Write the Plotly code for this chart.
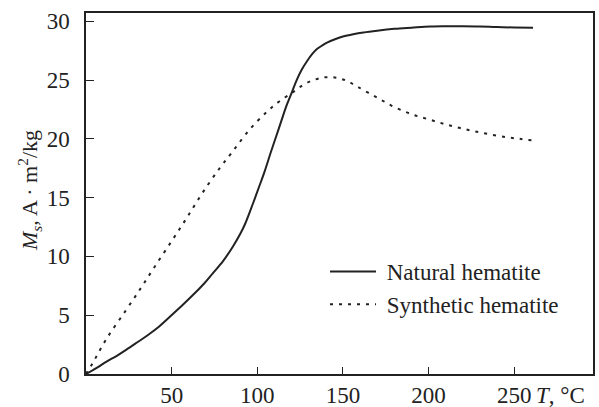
import plotly.graph_objects as go

natural_T = [0, 6, 12, 18, 23.4, 30, 36, 42, 50.7, 57, 63, 69, 74, 80, 85.8, 90, 93, 97.5, 101, 104, 108, 111, 114, 117, 120.3, 123, 126, 129, 132, 135, 138, 141, 145, 150, 156, 162, 170, 180, 190, 201, 210, 220, 230, 240, 250, 261]
natural_Ms = [0, 0.5, 1.05, 1.55, 2.05, 2.7, 3.3, 3.95, 5.1, 5.95, 6.8, 7.7, 8.56, 9.6, 10.85, 11.9, 12.8, 14.5, 15.9, 17.1, 18.9, 20.2, 21.5, 22.8, 24.0, 25.0, 25.9, 26.6, 27.2, 27.65, 27.95, 28.2, 28.45, 28.7, 28.9, 29.05, 29.2, 29.35, 29.45, 29.55, 29.57, 29.57, 29.55, 29.5, 29.47, 29.45]

synthetic_T = [0, 3.9, 12, 23.4, 32, 40, 50, 58.5, 68, 78, 85.5, 95, 105.6, 113, 121.2, 127, 132.9, 138, 142, 146, 150, 154, 158.3, 165, 171.9, 178, 185.5, 192, 199, 206, 212, 219, 226.5, 235, 245, 253, 261.6]
synthetic_Ms = [0, 0.93, 3.0, 5.44, 7.3, 9.1, 11.3, 13.2, 15.4, 17.5, 18.9, 20.7, 22.3, 23.2, 24.0, 24.6, 25.0, 25.2, 25.25, 25.2, 25.05, 24.8, 24.45, 23.9, 23.35, 22.85, 22.35, 22.0, 21.7, 21.4, 21.15, 20.9, 20.65, 20.4, 20.15, 20.0, 19.85]

x_ticks = [50, 100, 150, 200, 250]
y_ticks = [0, 5, 10, 15, 20, 25, 30]

FONT = "Liberation Serif, Times New Roman, serif"
INK = "#222222"

fig = go.Figure()
fig.add_trace(go.Scatter(x=natural_T, y=natural_Ms, mode="lines", name=" Natural hematite",
                         line=dict(color=INK, width=2, shape="spline", smoothing=1.0)))
fig.add_trace(go.Scatter(x=synthetic_T, y=synthetic_Ms, mode="lines", name=" Synthetic hematite",
                         line=dict(color=INK, width=2, dash="3px,6px", shape="spline", smoothing=1.0)))

fig.update_layout(
    width=599, height=407,
    margin=dict(l=86, r=6, t=13, b=33),
    paper_bgcolor="white", plot_bgcolor="white",
    font=dict(family=FONT, size=23, color=INK),
    showlegend=True,
    legend=dict(x=(325 - 86) / 507, y=(374 - 250) / 361, xanchor="left", yanchor="top",
                bgcolor="rgba(0,0,0,0)", font=dict(family=FONT, size=23, color=INK),
                itemwidth=46, tracegroupgap=0),
    xaxis=dict(range=[0, 296], tickvals=x_ticks, ticktext=[str(v) for v in x_ticks],
               ticks="inside", ticklen=7, tickcolor=INK, tickwidth=1,
               showline=True, linecolor=INK, linewidth=1.5, mirror=True,
               showgrid=False, zeroline=False, fixedrange=True, automargin=False,
               tickfont=dict(family=FONT, size=23, color=INK)),
    yaxis=dict(range=[0, 30.7], tickvals=y_ticks, ticktext=[str(v) for v in y_ticks],
               ticks="inside", ticklen=8, tickcolor=INK, tickwidth=1,
               showline=True, linecolor=INK, linewidth=1.5, mirror=True,
               showgrid=False, zeroline=False, fixedrange=True, automargin=False,
               ticklabelstandoff=10,
               tickfont=dict(family=FONT, size=23, color=INK)),
    annotations=[
        dict(text="<i>M<sub>s</sub></i>, A · m<sup>2</sup>/kg", textangle=-90,
             xref="paper", yref="paper", x=(30 - 86) / 507, y=(374 - 191) / 361,
             xanchor="center", yanchor="middle", showarrow=False,
             font=dict(family=FONT, size=22, color=INK)),
        dict(text="<i>T</i>, °C", xref="paper", yref="paper",
             x=(534 - 86) / 507, y=(374 - 395) / 361,
             xanchor="left", yanchor="middle", showarrow=False,
             font=dict(family=FONT, size=23, color=INK)),
    ],
)

fig.write_html("out.html", config={"displayModeBar": False},
               post_script="document.body.style.margin='0';")
